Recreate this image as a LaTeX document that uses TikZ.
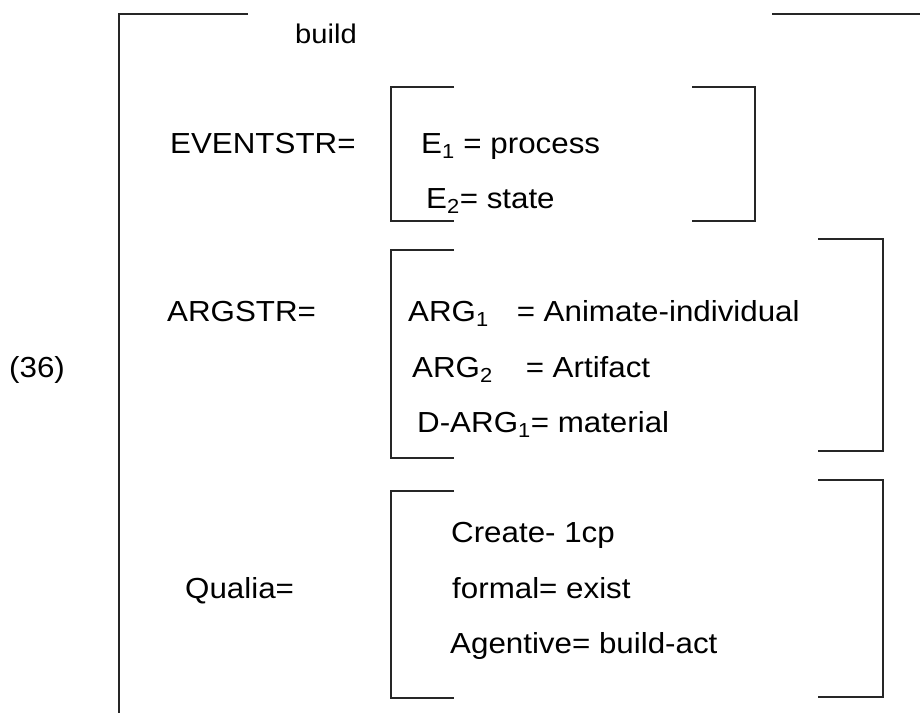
\documentclass[tikz,border=0pt]{standalone}
\usepackage{fontspec}
\setmainfont[FakeStretch=1.08]{Liberation Sans}
\begin{document}
\begin{tikzpicture}[x=1pt, y=-1pt,
  rule/.style={line width=1.5pt, black!85},
  lbl/.style={anchor=base west, inner sep=0pt, font=\fontsize{29}{34}\selectfont},
  small/.style={lbl, font=\fontsize{27}{32}\selectfont}]
\useasboundingbox (0,0) rectangle (920,713);

% outer attribute-value matrix
\draw[rule] (248,14) -- (119,14) -- (119,713);
\draw[rule] (772,14) -- (920,14);

% event structure brackets
\draw[rule] (454,87) -- (391,87) -- (391,221) -- (454,221);
\draw[rule] (692,87) -- (755,87) -- (755,221) -- (692,221);

% argument structure brackets
\draw[rule] (454,250) -- (391,250) -- (391,458) -- (454,458);
\draw[rule] (818,239) -- (883,239) -- (883,451) -- (818,451);

% qualia structure brackets
\draw[rule] (454,491) -- (391,491) -- (391,698) -- (454,698);
\draw[rule] (818,480) -- (883,480) -- (883,697) -- (818,697);

% labels
\node[lbl]   (num)   at (9,377)   {(36)};
\node[small] (head)  at (295,43)  {build};

\node[lbl] (ev)  at (170,153) {EVENTSTR=};
\node[lbl] (e1)  at (421,153) {E\textsubscript{1} = process};
\node[lbl] (e2)  at (426,208) {E\textsubscript{2}= state};

\node[lbl] (arg)  at (167,321) {ARGSTR=};
\node[lbl] (a1)   at (408,321) {ARG\textsubscript{1}\hspace{28pt}= Animate-individual};
\node[lbl] (a2)   at (412,377) {ARG\textsubscript{2}\hspace{33pt}= Artifact};
\node[lbl] (da1)  at (417,432) {D-ARG\textsubscript{1}= material};

\node[lbl] (qua)  at (185,598) {Qualia=};
\node[lbl] (q1)   at (451,542) {Create- 1cp};
\node[lbl] (q2)   at (452,598) {formal= exist};
\node[lbl] (q3)   at (450,653) {Agentive= build-act};
\end{tikzpicture}
\end{document}
